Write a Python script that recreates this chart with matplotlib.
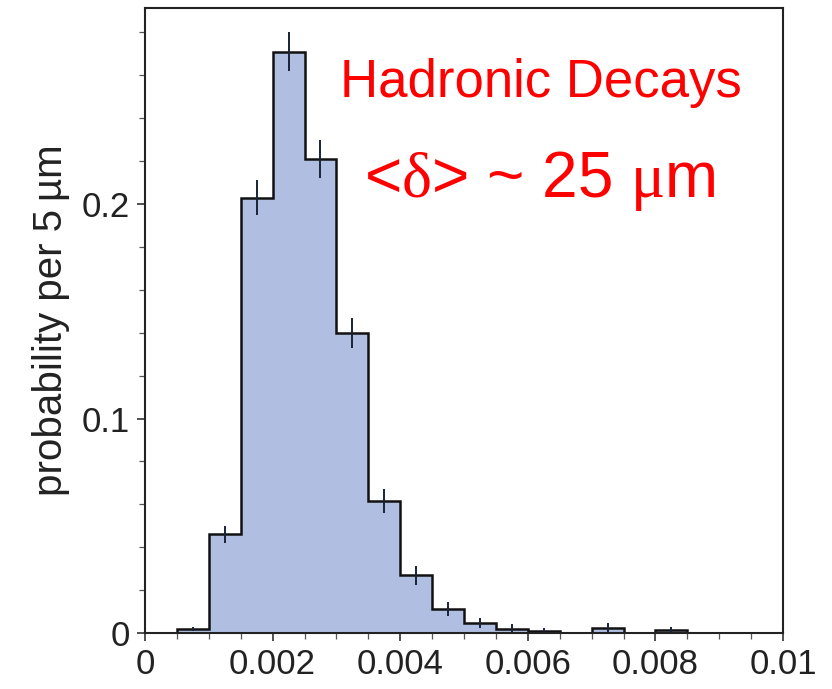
import numpy as np
import matplotlib
matplotlib.use("Agg")
import matplotlib.pyplot as plt
from matplotlib.ticker import MultipleLocator

plt.rcParams["font.family"] = ["Liberation Sans", "DejaVu Sans"]
plt.rcParams["mathtext.fontset"] = "custom"
plt.rcParams["mathtext.rm"] = "Liberation Serif"
plt.rcParams["mathtext.it"] = "Liberation Serif"

# histogram: 5 um bins from 0 to 0.01
bin_edges = np.linspace(0.0, 0.01, 21)
probability = [0.0, 0.002, 0.046, 0.203, 0.271, 0.221, 0.140, 0.0615, 0.027, 0.0112,
               0.0047, 0.002, 0.001, 0.0, 0.0025, 0.0, 0.0012, 0.0, 0.0, 0.0]
errors = [0.0, 0.001, 0.004, 0.008, 0.009, 0.009, 0.007, 0.0056, 0.0044, 0.0033,
          0.0025, 0.002, 0.0015, 0.0, 0.002, 0.0, 0.0015, 0.0, 0.0, 0.0]

x_ticks = [0, 0.002, 0.004, 0.006, 0.008, 0.01]
x_labels = ["0", "0.002", "0.004", "0.006", "0.008", "0.01"]
y_ticks = [0, 0.1, 0.2]
y_labels = ["0", "0.1", "0.2"]

fig = plt.figure(figsize=(8.32, 6.89), dpi=100)
ax = fig.add_axes([0.1743, 0.0813, 0.7668, 0.9071])

ax.stairs(probability, bin_edges, fill=True, color="#b0bee2", zorder=1)
ax.stairs(probability, bin_edges, fill=False, color="#111111", linewidth=1.8, zorder=2)

centers = 0.5 * (bin_edges[:-1] + bin_edges[1:])
mask = np.array(errors) > 0
ax.errorbar(centers[mask], np.array(probability)[mask], yerr=np.array(errors)[mask],
            fmt="none", ecolor="#1a2238", elinewidth=1.4, capsize=0, zorder=3)

ax.set_xlim(0, 0.01)
ax.set_ylim(0, 0.2914)
ax.set_xticks(x_ticks)
ax.set_xticklabels(x_labels)
ax.set_yticks(y_ticks)
ax.set_yticklabels(y_labels)
ax.xaxis.set_minor_locator(MultipleLocator(0.0005))
ax.yaxis.set_minor_locator(MultipleLocator(0.02))

ax.tick_params(axis="both", which="major", direction="out", length=6, width=1.1,
               labelsize=25, colors="#222222")
ax.tick_params(axis="both", which="minor", direction="out", length=4.5, width=0.9,
               colors="#555555")
ax.tick_params(axis="x", which="major", pad=5)
ax.tick_params(axis="y", which="major", pad=5)
for sp in ax.spines.values():
    sp.set_linewidth(1.5)
    sp.set_color("#222222")

ax.set_ylabel("probability per 5\u2009\u00b5m", fontsize=29, labelpad=8, color="#222222")

ax.text(0.00621, 0.2499, "Hadronic Decays", color="#ff0000", fontsize=38,
        ha="center", va="baseline")
ax.text(0.00619, 0.2033, r"<$\delta$> ~ 25 $\mu$m", color="#ff0000", fontsize=46,
        ha="center", va="baseline")

fig.savefig("out.png", dpi=100)
